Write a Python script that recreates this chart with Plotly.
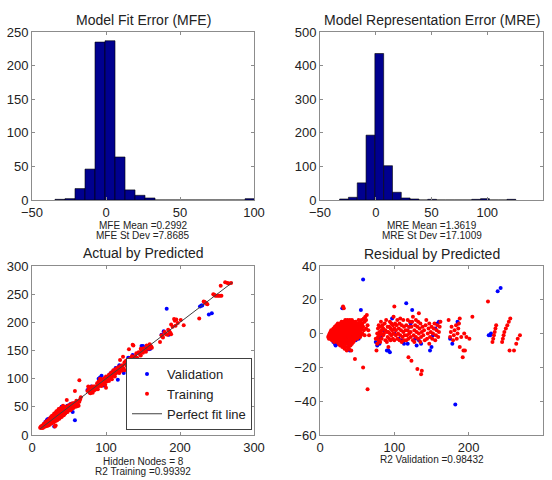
import numpy as np
import plotly.graph_objects as go

FONT = "Liberation Sans, Arial, sans-serif"

# ---------------- data ----------------
mfe_centers = [-31.09, -24.33, -17.57, -10.81, -4.05, 2.71, 9.47, 16.23, 22.99, 29.75,
               36.51, 43.27, 50.03, 56.79, 63.55, 70.31, 77.07, 83.83, 90.59, 97.35]
mfe_counts = [1, 2, 17, 46, 235, 237, 64, 15, 7, 3,
              0, 0, 0, 0, 0, 0, 0, 0, 0, 2]

mre_centers = [-28.45, -20.55, -12.65, -4.75, 3.15, 11.05, 18.95, 26.85, 34.75, 42.65,
               50.55, 58.45, 66.35, 74.25, 82.15, 90.05, 97.95, 105.85, 113.75, 121.65]
mre_counts = [3, 8, 51, 193, 436, 102, 23, 6, 3, 0,
              2, 0, 0, 0, 0, 2, 4, 0, 0, 2]

train_pred = [
    11, 12, 12, 13, 13, 14, 14, 14, 15, 15, 15, 16, 16, 16, 17, 17, 17, 18, 18, 18, 18,
    19, 19, 19, 19, 20, 20, 20, 20, 21, 21, 21, 21, 22, 22, 22, 22, 23, 23, 23, 23,
    24, 24, 24, 24, 25, 25, 25, 25, 25, 26, 26, 26, 26, 27, 27, 27, 27, 27,
    28, 28, 28, 28, 29, 29, 29, 29, 29, 30, 30, 30, 30, 30, 31, 31, 31, 31, 31,
    32, 32, 32, 32, 32, 32, 33, 33, 33, 33, 33, 34, 34, 34, 34, 34, 35, 35, 35, 35, 35,
    36, 36, 36, 36, 36, 37, 37, 37, 37, 37, 38, 38, 38, 38, 38, 39, 39, 39, 39, 39,
    40, 40, 40, 40, 40, 41, 41, 41, 41, 41, 42, 42, 42, 42, 42, 43, 43, 43, 43, 43,
    44, 44, 44, 44, 45, 45, 45, 45, 45, 46, 46, 46, 46, 47, 47, 47, 47, 47,
    48, 48, 48, 48, 49, 49, 49, 50, 50, 50, 50, 51, 51, 51, 52, 52, 52, 52,
    53, 53, 53, 54, 54, 54, 55, 55, 55, 56, 56, 57, 57, 58, 58, 59, 59, 60, 60,
    61, 62, 62, 63, 64, 64, 65, 66,
    75, 76, 77, 77, 78, 78, 79, 79, 80, 80, 81, 81, 82, 82, 83, 83, 84, 85, 85, 86,
    87, 88, 88, 89, 90, 90, 91, 91, 92, 92, 93, 93, 94, 94, 95, 95, 96, 96, 97, 98,
    98, 99, 99, 100, 100, 100, 101, 102, 102, 103, 104, 104,
    105, 106, 107, 107, 108, 108, 109, 110, 110, 111, 112, 112, 113, 113, 114, 115,
    116, 116, 117, 118, 118, 119, 119, 120, 120, 121, 122, 122, 123, 123, 124, 125,
    125, 126, 127, 127, 128, 129, 129, 130, 131, 131, 132, 132, 133, 133, 134, 135,
    135, 136, 136, 137, 137, 138, 139, 140, 141, 142, 143,
    144, 145, 146, 147, 147, 148, 149, 150, 151, 152, 153, 154, 155, 156, 157, 158,
    159, 160, 161, 162,
    173, 175, 176, 177, 179, 180, 181, 183, 184, 185, 186, 187, 188, 188, 190, 192,
    193, 194, 195, 197, 201, 205,
    226, 232, 233, 234, 235, 236, 237, 245, 246, 247, 248, 250, 252, 254, 256, 255,
    261, 264, 266, 269,
]
train_resid = [
    -2, -1, -3, 0, -2, 1, -1, -3, 2, 0, -2, 1, -1, -4, 2, 0, -2, 3, 1, -1, -3,
    2, 0, -2, -5, 4, 1, -1, -3, 3, 0, -2, -4, 5, 2, -1, -3, 4, 1, -2, -5,
    6, 3, 0, -3, 5, 2, -1, -4, -6, 4, 1, -2, -5, 6, 3, 0, -3, -7,
    5, 2, -1, -4, 7, 4, 1, -2, -6, 6, 3, 0, -3, -8, 16, 5, 2, -1, -5,
    15, 7, 4, 1, -2, -7, 6, 3, 0, -4, -9, 8, 5, 2, -1, -6, 7, 4, 1, -3, -8,
    6, 3, 0, -4, -10, 8, 5, 2, -1, -6, 7, 4, 1, -2, -8, 6, 3, 0, -4, -9,
    8, 5, 2, -1, -5, 7, 4, 1, -3, -7, 6, 3, 0, -4, -10, 8, 5, 2, -2, -6,
    6, 3, 0, -3, 7, 4, 1, -2, -5, 5, 2, -1, -4, -15, 6, 3, 0, -3,
    7, 4, 1, -2, 5, 2, -1, 6, 3, 0, -3, 4, 1, -2, 8, 5, 2, -1,
    6, 3, 0, 7, 4, -2, 5, 2, -1, 8, 3, 6, 0, -20, 4, 9, 2, 7, -1,
    10, 8, 3, 11, -33, 5, 2, -1,
    -3, -10, 0, -6, 3, -2, 5, -4, 1, -1, 4, -5, 7, 0, 2, -3, 5, -1, 3, 0,
    6, 2, -4, 8, -5, 1, -2, 4, -8, 1, 4, -3, 7, 0, -4, 3, 6, -1, 2, 5,
    -3, 10, 0, 16, 3, -4, 6, -1, 2, 5, 8, -3,
    0, 3, -4, 6, -1, 9, 2, -5, 5, -2, 1, 8, 4, -4, -1, 2,
    -4, 5, -1, 2, 8, -14, -3, 0, 4, 7, -2, 1, -16, 4, 7, -4,
    10, -1, 2, -5, 5, -2, 8, 1, -21, 4, -3, 7, 0, 12, 3, -5,
    6, -24, -2, 1, -22, 4, -1, 2, -4, 5, 8,
    -3, 0, 3, -6, 6, -2, 1, 4, -3, 0, 3, 6, -4, -1, 2, 5,
    -2, 1, 4, 7,
    8, -2, 1, 4, -4, -1, 2, 5, -3, 0, 3, 6, -8, 9, -2, -14,
    -10, 0, -10, -2, -3, 10,
    19, -5, -3, -1, 1, 3, 5, -5, -3, -1, 1, 3, 5, 7, 9, -10,
    -10, -6, -3, -1,
]

val_pred = [18, 20, 21, 22, 23, 24, 25, 26, 27, 28, 29, 30, 31, 32, 33, 34, 35, 36, 37,
            38, 39, 40, 41, 42, 43, 44, 45, 46, 48, 50, 52, 55, 58,
            75, 77, 79, 80, 82, 85, 90, 92, 94, 97, 100, 106, 110, 113, 116, 118, 120,
            122, 124, 128, 130, 133, 136, 148, 150, 152, 155, 158, 160,
            175, 178, 182, 185, 186, 227, 229, 230, 239, 243]
val_resid = [-5, -6, -7, -5, -6, -4, 3, -6, -5, 1, -3, 15, -4, -6, 2, -3, 4, -5, -2,
             -8, 1, -10, 3, -6, -1, 3, -2, 5, -4, 2, -3, 14, 32,
             -5, -7, -3, -6, -2, 2, -10, -10, -11, 9, 0, -3, -4, -6, 18, -6, 4,
             6, 14, -3, -7, -4, -6, -10, -8, -1, 3, 6, 7,
             -3, -6, -42, 7, 6, -1, -1, 0, 25, 27]

# actual = predicted - residual
train_act = [p - r for p, r in zip(train_pred, train_resid)]
val_act = [p - r for p, r in zip(val_pred, val_resid)]

mfe_notes = ["MFE Mean =0.2992", "MFE St Dev =7.8685"]
mre_notes = ["MRE Mean =1.3619", "MRE St Dev =17.1009"]
abp_notes = ["Hidden Nodes = 8", "R2 Training =0.99392"]
res_notes = ["R2 Validation =0.98432"]

# ---------------- figure ----------------
W, H = 552, 480
BAR = "#00008f"
BLUE = "#0000ff"
RED = "#ff0000"

fig = go.Figure()

mfe_w = float(np.diff(mfe_centers).mean())
mre_w = float(np.diff(mre_centers).mean())

fig.add_trace(go.Bar(x=mfe_centers, y=mfe_counts, width=mfe_w,
                     marker=dict(color=BAR, line=dict(color="#000000", width=0.6)),
                     xaxis="x", yaxis="y", showlegend=False))
fig.add_trace(go.Bar(x=mre_centers, y=mre_counts, width=mre_w,
                     marker=dict(color=BAR, line=dict(color="#000000", width=0.6)),
                     xaxis="x2", yaxis="y2", showlegend=False))

mk = dict(size=4)
fig.add_trace(go.Scatter(x=val_pred, y=val_act, mode="markers", name="Validation",
                         marker=dict(color=BLUE, **mk), xaxis="x3", yaxis="y3"))
fig.add_trace(go.Scatter(x=train_pred, y=train_act, mode="markers", name="Training",
                         marker=dict(color=RED, **mk), xaxis="x3", yaxis="y3"))
lo = min(min(train_pred), min(val_pred))
hi = max(max(train_act), max(val_act))
fig.add_trace(go.Scatter(x=[lo, hi], y=[lo, hi], mode="lines", name="Perfect fit line",
                         line=dict(color="#404040", width=1), xaxis="x3", yaxis="y3"))

fig.add_trace(go.Scatter(x=val_pred, y=val_resid, mode="markers", showlegend=False,
                         marker=dict(color=BLUE, **mk), xaxis="x4", yaxis="y4"))
fig.add_trace(go.Scatter(x=train_pred, y=train_resid, mode="markers", showlegend=False,
                         marker=dict(color=RED, **mk), xaxis="x4", yaxis="y4"))


def px_x(a, b):
    return [a / W, b / W]


def px_y(top, bottom):
    return [(H - bottom) / H, (H - top) / H]


def ax(domain, rng, dtick, anchor):
    return dict(domain=domain, range=rng, dtick=dtick, anchor=anchor,
                showline=True, linecolor="#8c8c8c", linewidth=1, mirror="ticks",
                ticks="inside", ticklen=3, tickcolor="#8c8c8c", showgrid=False,
                zeroline=False, automargin=False,
                tickfont=dict(size=13, family=FONT, color="#222222"),
                fixedrange=True)


L1, R1 = 32, 254
L2, R2 = 320, 543
T1, B1 = 32, 200
T2, B2 = 266, 435

fig.update_layout(
    width=W, height=H,
    margin=dict(l=0, r=0, t=0, b=0, autoexpand=False),
    paper_bgcolor="white", plot_bgcolor="white",
    font=dict(family=FONT, color="#222222"),
    bargap=0,
    xaxis=ax(px_x(L1, R1), [-50, 100], 50, "y"),
    yaxis=ax(px_y(T1, B1), [0, 250], 50, "x"),
    xaxis2=ax(px_x(L2, R2), [-50, 150], 50, "y2"),
    yaxis2=ax(px_y(T1, B1), [0, 500], 100, "x2"),
    xaxis3=ax(px_x(L1, R1), [0, 300], 100, "y3"),
    yaxis3=ax(px_y(T2, B2), [0, 300], 50, "x3"),
    xaxis4=ax(px_x(L2, R2), [0, 300], 100, "y4"),
    yaxis4=ax(px_y(T2, B2), [-60, 40], 20, "x4"),
    legend=dict(x=126 / W, y=(H - 430) / H, xanchor="left", yanchor="bottom",
                bgcolor="white", bordercolor="#404040", borderwidth=1,
                font=dict(size=13, family=FONT, color="#222222"),
                tracegroupgap=0, itemwidth=30),
)


def note(text, xc, yc, size):
    fig.add_annotation(text=text, x=xc / W, y=(H - yc) / H, xref="paper", yref="paper",
                       xanchor="center", yanchor="middle", showarrow=False,
                       font=dict(size=size, family=FONT, color="#222222"))


note("Model Fit Error (MFE)", (L1 + R1) / 2, 20, 14)
note("Model Representation Error (MRE)", (L2 + R2) / 2, 20, 14)
note("Actual by Predicted", (L1 + R1) / 2, 253, 14)
note("Residual by Predicted", (L2 + R2) / 2, 254, 14)

for i, t in enumerate(mfe_notes):
    note(t, (L1 + R1) / 2, 225 + 10 * i, 10)
for i, t in enumerate(mre_notes):
    note(t, (L2 + R2) / 2, 225 + 10 * i, 10)
for i, t in enumerate(abp_notes):
    note(t, (L1 + R1) / 2, 461 + 10 * i, 10)
for i, t in enumerate(res_notes):
    note(t, (L2 + R2) / 2, 459 + 10 * i, 10)

fig.write_html(
    "out.html",
    config={"displayModeBar": False, "staticPlot": True},
    post_script="document.body.style.margin='0';document.body.style.overflow='hidden';",
)
